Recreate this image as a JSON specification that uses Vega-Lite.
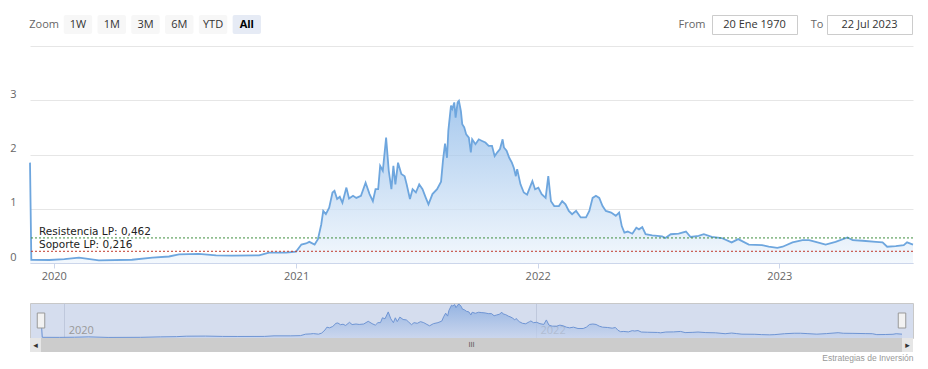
{
  "$schema": "https://vega.github.io/schema/vega-lite/v6.json",
  "autosize": {"type": "pad"},
  "padding": {"left": 9, "top": 14, "right": 14, "bottom": 4},
  "background": "white",
  "config": {
    "view": {"stroke": null},
    "font": "Open Sans",
    "axis": {"labelFont": "Open Sans", "titleFont": "Open Sans"}
  },
  "datasets": {
    "price": [
      {"date": "2019-11-26", "price": 1.85},
      {"date": "2019-11-28", "price": 0.06},
      {"date": "2019-12-25", "price": 0.055},
      {"date": "2020-01-17", "price": 0.07},
      {"date": "2020-02-08", "price": 0.1},
      {"date": "2020-03-09", "price": 0.05},
      {"date": "2020-04-28", "price": 0.06},
      {"date": "2020-05-29", "price": 0.1},
      {"date": "2020-06-23", "price": 0.12},
      {"date": "2020-07-08", "price": 0.16},
      {"date": "2020-08-07", "price": 0.17},
      {"date": "2020-09-02", "price": 0.14},
      {"date": "2020-09-26", "price": 0.135},
      {"date": "2020-11-06", "price": 0.14},
      {"date": "2020-11-21", "price": 0.19},
      {"date": "2020-12-17", "price": 0.19},
      {"date": "2021-01-01", "price": 0.21},
      {"date": "2021-01-09", "price": 0.34},
      {"date": "2021-01-16", "price": 0.36},
      {"date": "2021-01-21", "price": 0.39},
      {"date": "2021-01-29", "price": 0.34},
      {"date": "2021-02-03", "price": 0.44},
      {"date": "2021-02-08", "price": 0.71},
      {"date": "2021-02-11", "price": 0.96},
      {"date": "2021-02-15", "price": 0.9},
      {"date": "2021-02-20", "price": 1.02},
      {"date": "2021-02-25", "price": 1.3},
      {"date": "2021-02-28", "price": 1.33},
      {"date": "2021-03-04", "price": 1.18},
      {"date": "2021-03-08", "price": 1.22},
      {"date": "2021-03-12", "price": 1.11},
      {"date": "2021-03-18", "price": 1.39},
      {"date": "2021-03-22", "price": 1.19},
      {"date": "2021-03-28", "price": 1.24},
      {"date": "2021-04-02", "price": 1.2},
      {"date": "2021-04-09", "price": 1.24},
      {"date": "2021-04-16", "price": 1.48},
      {"date": "2021-04-22", "price": 1.27},
      {"date": "2021-04-27", "price": 1.14},
      {"date": "2021-05-01", "price": 1.36},
      {"date": "2021-05-05", "price": 1.36},
      {"date": "2021-05-08", "price": 1.79},
      {"date": "2021-05-12", "price": 1.7},
      {"date": "2021-05-17", "price": 2.31},
      {"date": "2021-05-21", "price": 1.7},
      {"date": "2021-05-25", "price": 1.36},
      {"date": "2021-05-28", "price": 1.79},
      {"date": "2021-05-31", "price": 1.45},
      {"date": "2021-06-04", "price": 1.85},
      {"date": "2021-06-09", "price": 1.64},
      {"date": "2021-06-14", "price": 1.6},
      {"date": "2021-06-17", "price": 1.45},
      {"date": "2021-06-22", "price": 1.18},
      {"date": "2021-06-26", "price": 1.36},
      {"date": "2021-07-01", "price": 1.3},
      {"date": "2021-07-06", "price": 1.45},
      {"date": "2021-07-11", "price": 1.36},
      {"date": "2021-07-16", "price": 1.2},
      {"date": "2021-07-20", "price": 1.08},
      {"date": "2021-07-26", "price": 1.27},
      {"date": "2021-08-02", "price": 1.36},
      {"date": "2021-08-08", "price": 1.5},
      {"date": "2021-08-11", "price": 1.9},
      {"date": "2021-08-14", "price": 2.2},
      {"date": "2021-08-17", "price": 1.94},
      {"date": "2021-08-19", "price": 2.44},
      {"date": "2021-08-23", "price": 2.9},
      {"date": "2021-08-25", "price": 2.84},
      {"date": "2021-08-28", "price": 2.96},
      {"date": "2021-08-30", "price": 2.68},
      {"date": "2021-09-02", "price": 2.96},
      {"date": "2021-09-04", "price": 2.99},
      {"date": "2021-09-07", "price": 2.8},
      {"date": "2021-09-09", "price": 2.56},
      {"date": "2021-09-12", "price": 2.5},
      {"date": "2021-09-15", "price": 2.37},
      {"date": "2021-09-19", "price": 2.31},
      {"date": "2021-09-22", "price": 2.04},
      {"date": "2021-09-24", "price": 2.28},
      {"date": "2021-09-29", "price": 2.19},
      {"date": "2021-10-04", "price": 2.28},
      {"date": "2021-10-09", "price": 2.25},
      {"date": "2021-10-14", "price": 2.22},
      {"date": "2021-10-19", "price": 2.16},
      {"date": "2021-10-24", "price": 2.16},
      {"date": "2021-10-28", "price": 1.97},
      {"date": "2021-11-01", "price": 2.04},
      {"date": "2021-11-05", "price": 2.1},
      {"date": "2021-11-09", "price": 2.28},
      {"date": "2021-11-11", "price": 2.13},
      {"date": "2021-11-15", "price": 2.07},
      {"date": "2021-11-19", "price": 1.94},
      {"date": "2021-11-23", "price": 1.85},
      {"date": "2021-11-26", "price": 1.75},
      {"date": "2021-11-29", "price": 1.6},
      {"date": "2021-12-01", "price": 1.73},
      {"date": "2021-12-06", "price": 1.45},
      {"date": "2021-12-11", "price": 1.3},
      {"date": "2021-12-16", "price": 1.26},
      {"date": "2021-12-22", "price": 1.45},
      {"date": "2021-12-24", "price": 1.51},
      {"date": "2021-12-28", "price": 1.36},
      {"date": "2022-01-02", "price": 1.39},
      {"date": "2022-01-07", "price": 1.27},
      {"date": "2022-01-13", "price": 1.2},
      {"date": "2022-01-17", "price": 1.6},
      {"date": "2022-01-21", "price": 1.14},
      {"date": "2022-01-26", "price": 1.05},
      {"date": "2022-02-02", "price": 1.05},
      {"date": "2022-02-07", "price": 1.14},
      {"date": "2022-02-12", "price": 1.08},
      {"date": "2022-02-17", "price": 0.96},
      {"date": "2022-02-22", "price": 0.9},
      {"date": "2022-02-28", "price": 0.96},
      {"date": "2022-03-07", "price": 0.84},
      {"date": "2022-03-15", "price": 0.84},
      {"date": "2022-03-20", "price": 0.96},
      {"date": "2022-03-25", "price": 1.2},
      {"date": "2022-03-30", "price": 1.24},
      {"date": "2022-04-04", "price": 1.2},
      {"date": "2022-04-09", "price": 1.05},
      {"date": "2022-04-14", "price": 0.96},
      {"date": "2022-04-22", "price": 0.93},
      {"date": "2022-04-29", "price": 0.87},
      {"date": "2022-05-04", "price": 0.93},
      {"date": "2022-05-08", "price": 0.68},
      {"date": "2022-05-12", "price": 0.56},
      {"date": "2022-05-17", "price": 0.58},
      {"date": "2022-05-24", "price": 0.54},
      {"date": "2022-05-30", "price": 0.65},
      {"date": "2022-06-03", "price": 0.62},
      {"date": "2022-06-08", "price": 0.66},
      {"date": "2022-06-13", "price": 0.53},
      {"date": "2022-06-23", "price": 0.51},
      {"date": "2022-07-08", "price": 0.49},
      {"date": "2022-07-13", "price": 0.46},
      {"date": "2022-07-21", "price": 0.53},
      {"date": "2022-08-02", "price": 0.54},
      {"date": "2022-08-13", "price": 0.58},
      {"date": "2022-08-20", "price": 0.48},
      {"date": "2022-09-01", "price": 0.5},
      {"date": "2022-09-09", "price": 0.53},
      {"date": "2022-09-21", "price": 0.48},
      {"date": "2022-10-06", "price": 0.46},
      {"date": "2022-10-21", "price": 0.38},
      {"date": "2022-10-31", "price": 0.44},
      {"date": "2022-11-08", "price": 0.39},
      {"date": "2022-11-16", "price": 0.34},
      {"date": "2022-12-06", "price": 0.33},
      {"date": "2022-12-16", "price": 0.3},
      {"date": "2022-12-29", "price": 0.28},
      {"date": "2023-01-06", "price": 0.3},
      {"date": "2023-01-21", "price": 0.38},
      {"date": "2023-02-05", "price": 0.42},
      {"date": "2023-02-15", "price": 0.42},
      {"date": "2023-02-25", "price": 0.39},
      {"date": "2023-03-12", "price": 0.34},
      {"date": "2023-03-27", "price": 0.39},
      {"date": "2023-04-14", "price": 0.47},
      {"date": "2023-04-22", "price": 0.42},
      {"date": "2023-05-07", "price": 0.41},
      {"date": "2023-05-27", "price": 0.39},
      {"date": "2023-06-06", "price": 0.38},
      {"date": "2023-06-13", "price": 0.3},
      {"date": "2023-06-26", "price": 0.31},
      {"date": "2023-07-08", "price": 0.33},
      {"date": "2023-07-13", "price": 0.38},
      {"date": "2023-07-22", "price": 0.34}
    ],
    "levels": [
      {"name": "Resistencia LP", "level": 0.462, "label": "Resistencia LP: 0,462"},
      {"name": "Soporte LP", "level": 0.216, "label": "Soporte LP: 0,216"}
    ],
    "buttons": [
      {"button": "Zoom", "kind": "label"},
      {"button": "1W", "kind": "button"},
      {"button": "1M", "kind": "button"},
      {"button": "3M", "kind": "button"},
      {"button": "6M", "kind": "button"},
      {"button": "YTD", "kind": "button"},
      {"button": "All", "kind": "selected"}
    ]
  },
  "bounds": "flush",
  "spacing": 31,
  "vconcat": [
    {
      "bounds": "flush",
      "spacing": 417,
      "hconcat": [
        {
          "width": 231,
          "height": 19,
          "data": {"name": "buttons"},
          "resolve": {"scale": {"color": "independent"}},
          "layer": [
            {
              "transform": [{"filter": "datum.kind != 'label'"}],
              "mark": {"type": "rect", "cornerRadius": 2},
              "encoding": {
                "x": {"field": "button", "type": "nominal", "scale": {"domain": ["Zoom", "1W", "1M", "3M", "6M", "YTD", "All"], "paddingInner": 0.16, "paddingOuter": 0}, "axis": null},
                "color": {"field": "kind", "type": "nominal", "scale": {"domain": ["button", "selected"], "range": ["#f7f7f7", "#e6ebf5"]}, "legend": null}
              }
            },
            {
              "transform": [{"filter": "datum.kind == 'label'"}],
              "mark": {"type": "text", "fontSize": 11, "color": "#666666"},
              "encoding": {
                "x": {"field": "button", "type": "nominal", "axis": null},
                "text": {"field": "button"}
              }
            },
            {
              "transform": [{"filter": "datum.kind == 'button'"}],
              "mark": {"type": "text", "fontSize": 11, "color": "#333333"},
              "encoding": {
                "x": {"field": "button", "type": "nominal", "axis": null},
                "text": {"field": "button"}
              }
            },
            {
              "transform": [{"filter": "datum.kind == 'selected'"}],
              "mark": {"type": "text", "fontSize": 11, "fontWeight": "bold", "color": "#000000"},
              "encoding": {
                "x": {"field": "button", "type": "nominal", "axis": null},
                "text": {"field": "button"}
              }
            }
          ]
        },
        {
          "bounds": "flush",
          "spacing": 0,
          "hconcat": [
            {
              "width": 34, "height": 19,
              "data": {"values": [{"label": "From"}]},
              "mark": {"type": "text", "fontSize": 11, "color": "#666666", "dx": -3},
              "encoding": {"text": {"field": "label"}}
            },
            {
              "width": 85, "height": 19,
              "view": {"stroke": "#cccccc", "fill": "white"},
              "data": {"values": [{"label": "20 Ene 1970"}]},
              "mark": {"type": "text", "fontSize": 11, "color": "#333333"},
              "encoding": {"text": {"field": "label"}}
            },
            {
              "width": 30, "height": 19,
              "data": {"values": [{"label": "To"}]},
              "mark": {"type": "text", "fontSize": 11, "color": "#666666", "dx": 5},
              "encoding": {"text": {"field": "label"}}
            },
            {
              "width": 85, "height": 19,
              "view": {"stroke": "#cccccc", "fill": "white"},
              "data": {"values": [{"label": "22 Jul 2023"}]},
              "mark": {"type": "text", "fontSize": 11, "color": "#333333"},
              "encoding": {"text": {"field": "label"}}
            }
          ]
        }
      ]
    },
    {
      "bounds": "flush",
      "spacing": 40,
      "vconcat": [
        {
          "width": 883,
          "height": 217,
          "layer": [
            {
              "data": {"name": "price"},
              "mark": {
                "type": "area",
                "fill": {"gradient": "linear", "x1": 0, "y1": 0, "x2": 0, "y2": 1, "stops": [{"offset": 0, "color": "#82b2e6"}, {"offset": 1, "color": "#eef5fc"}]},
                "line": {"stroke": "#6ea6de", "strokeWidth": 1.8}
              },
              "encoding": {
                "x": {
                  "field": "date", "type": "temporal",
                  "scale": {"type": "utc", "domain": [{"year": 2019, "month": 11, "date": 26, "utc": true}, {"year": 2023, "month": 7, "date": 22, "utc": true}], "nice": false},
                  "axis": {
                    "values": [{"year": 2020, "utc": true}, {"year": 2021, "utc": true}, {"year": 2022, "utc": true}, {"year": 2023, "utc": true}],
                    "format": "%Y", "title": null, "grid": false,
                    "domainColor": "#ccd6eb", "tickColor": "#ccd6eb", "tickSize": 5,
                    "labelColor": "#666666", "labelFontSize": 11, "labelPadding": 2
                  }
                },
                "y": {
                  "field": "price", "type": "quantitative",
                  "scale": {"domain": [0, 4], "nice": false},
                  "axis": {
                    "values": [0, 1, 2, 3, 4],
                    "format": "d",
                    "labelExpr": "datum.value == 4 ? '' : datum.label",
                    "title": null, "domain": false, "ticks": false, "grid": true, "gridColor": "#e6e6e6",
                    "labelColor": "#666666", "labelFontSize": 11, "labelPadding": 14, "labelBaseline": "middle", "labelOffset": -6
                  }
                }
              }
            },
            {
              "data": {"name": "levels"},
              "mark": {"type": "rule", "strokeDash": [2, 2], "strokeWidth": 1},
              "encoding": {
                "y": {"field": "level", "type": "quantitative"},
                "color": {"field": "name", "type": "nominal", "scale": {"domain": ["Resistencia LP", "Soporte LP"], "range": ["#3f8f3f", "#c0392b"]}, "legend": null}
              }
            },
            {
              "data": {"name": "levels"},
              "mark": {"type": "text", "align": "left", "baseline": "alphabetic", "dx": 9, "dy": -3, "fontSize": 10.5, "font": "DejaVu Sans", "color": "#222222"},
              "encoding": {
                "x": {"datum": {"year": 2019, "month": 11, "date": 26, "utc": true}, "type": "temporal"},
                "y": {"field": "level", "type": "quantitative"},
                "text": {"field": "label"}
              }
            }
          ]
        },
        {
          "bounds": "flush",
          "spacing": 0,
          "vconcat": [
            {
              "width": 883,
              "height": 35,
              "view": {"fill": "#d5ddee", "stroke": "#c8c8c8"},
              "data": {"name": "price"},
              "layer": [
                {
                  "mark": {
                    "type": "area",
                    "fill": {"gradient": "linear", "x1": 0, "y1": 0, "x2": 0, "y2": 1, "stops": [{"offset": 0, "color": "#7aa3dd"}, {"offset": 1, "color": "#c6d3ed"}]},
                    "line": {"stroke": "#6f95d4", "strokeWidth": 1}
                  },
                  "encoding": {
                    "x": {
                      "field": "date", "type": "temporal",
                      "scale": {"type": "utc", "domain": [{"year": 2019, "month": 11, "date": 26, "utc": true}, {"year": 2023, "month": 7, "date": 22, "utc": true}], "nice": false, "padding": 11},
                      "axis": {
                        "values": [{"year": 2020, "utc": true}, {"year": 2022, "utc": true}],
                        "format": "%Y", "title": null, "grid": true, "gridColor": "#bfc8dc", "domain": false, "ticks": false,
                        "labelAlign": "left", "labelOffset": 4, "labelPadding": -3, "labelBaseline": "bottom",
                        "labelColor": "#999999", "labelFontSize": 11
                      }
                    },
                    "y": {"field": "price", "type": "quantitative", "scale": {"domain": [0, 3.1], "nice": false, "zero": false}, "axis": null}
                  }
                },
                {
                  "mark": {"type": "point", "shape": "M-0.5,-1V1H0.5V-1Z", "size": 225, "filled": true, "fill": "#f2f2f2", "stroke": "#999999", "strokeWidth": 1, "opacity": 1},
                  "encoding": {"x": {"aggregate": "min", "field": "date", "type": "temporal"}}
                },
                {
                  "mark": {"type": "point", "shape": "M-0.5,-1V1H0.5V-1Z", "size": 225, "filled": true, "fill": "#f2f2f2", "stroke": "#999999", "strokeWidth": 1, "opacity": 1},
                  "encoding": {"x": {"aggregate": "max", "field": "date", "type": "temporal"}}
                }
              ]
            },
            {
              "width": 883,
              "height": 14,
              "view": {"fill": "#e6e6e6", "stroke": null},
              "data": {"name": "price"},
              "layer": [
                {
                  "mark": {"type": "rect", "color": "#cccccc"},
                  "encoding": {
                    "x": {
                      "aggregate": "min", "field": "date", "type": "temporal",
                      "scale": {"type": "utc", "domain": [{"year": 2019, "month": 11, "date": 26, "utc": true}, {"year": 2023, "month": 7, "date": 22, "utc": true}], "nice": false, "padding": 11},
                      "axis": {
                        "title": "Estrategias de Inversión", "titleAnchor": "end", "titleFontSize": 8.5, "titleFont": "Liberation Sans",
                        "titleColor": "#999999", "titleFontWeight": "normal", "titlePadding": 1, "titleBaseline": "top",
                        "labels": false, "ticks": false, "domain": false, "grid": false
                      }
                    },
                    "x2": {"aggregate": "max", "field": "date"}
                  }
                },
                {
                  "mark": {"type": "text", "text": "◂", "font": "DejaVu Sans", "fontSize": 9, "fill": "#333333", "dx": -5.5},
                  "encoding": {"x": {"aggregate": "min", "field": "date", "type": "temporal"}}
                },
                {
                  "mark": {"type": "text", "text": "▸", "font": "DejaVu Sans", "fontSize": 9, "fill": "#333333", "dx": 5.5},
                  "encoding": {"x": {"aggregate": "max", "field": "date", "type": "temporal"}}
                },
                {
                  "transform": [{"aggregate": [{"op": "count", "as": "n"}]}],
                  "mark": {"type": "text", "text": "III", "font": "DejaVu Sans", "fontSize": 7, "fill": "#555555"}
                }
              ]
            }
          ]
        }
      ]
    }
  ]
}
